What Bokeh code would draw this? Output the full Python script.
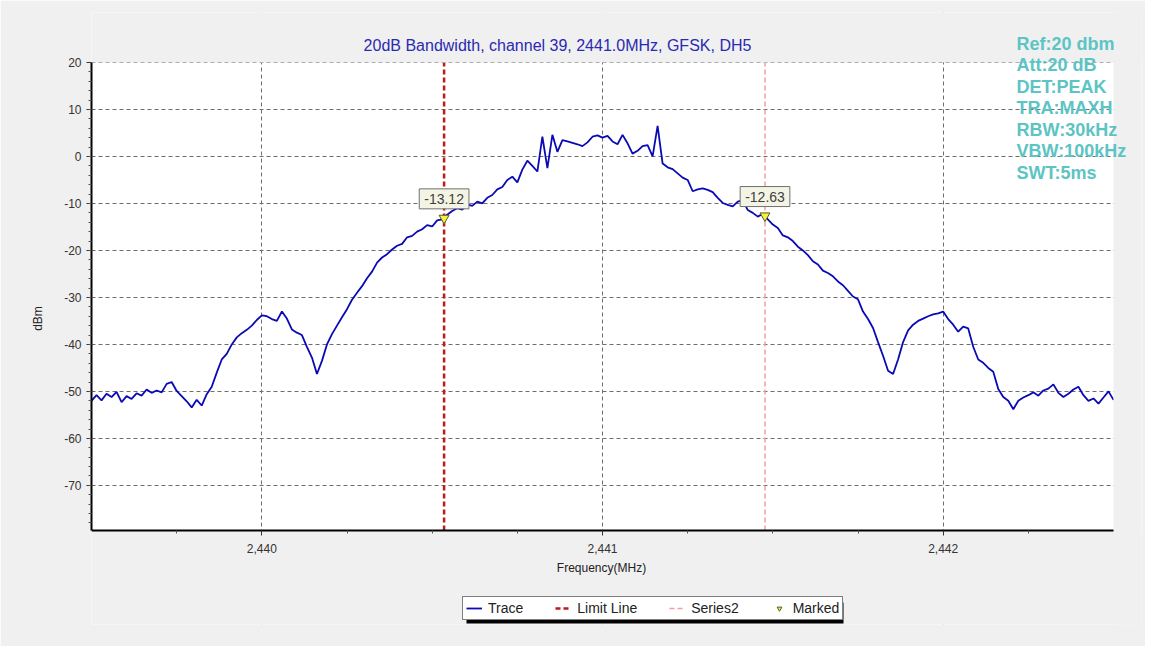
from bokeh.plotting import figure
from bokeh.models import Range1d, FixedTicker, Label, Legend, LegendItem, BoxAnnotation
from bokeh.embed import file_html
from bokeh.resources import INLINE
import numpy as np

# ---------------- data ----------------
freq_start = 2439.5
freq_stop = 2442.5
trace_dbm = [
    -52.0, -50.8, -51.9, -50.5, -51.2, -50.1, -52.3, -51.0, -51.6, -50.4,
    -50.9, -49.6, -50.3, -49.8, -50.2, -48.4, -48.0, -49.9, -51.0, -52.1,
    -53.4, -51.8, -53.0, -50.6, -49.0, -46.0, -43.2, -42.0, -40.0, -38.5,
    -37.6, -36.9, -36.0, -34.8, -33.8, -34.0, -34.6, -35.0, -33.0, -34.5,
    -36.8, -37.5, -38.0, -40.5, -42.8, -46.3, -43.5, -40.0, -37.8, -36.0,
    -34.2, -32.5, -30.5, -29.0, -27.6, -25.9, -24.5, -22.6, -21.5, -20.8,
    -19.8, -19.0, -18.6, -17.2, -16.9, -16.0, -15.5, -14.6, -14.9, -13.6,
    -13.4, -12.4, -11.6, -11.0, -11.3, -10.2, -10.5, -9.6, -10.0, -8.8,
    -8.2, -7.0, -6.5, -5.0, -4.3, -5.5, -2.8, -0.9, -2.0, -3.2,
    4.2, -2.5, 4.6, 1.0, 3.5, 3.2, 2.9, 2.6, 2.2, 3.0,
    4.2, 4.5, 4.0, 4.4, 3.2, 2.6, 4.6, 2.8, 0.6, 1.2,
    2.2, 2.4, 0.0, 6.5, -1.5, -2.3, -2.7, -3.6, -4.5, -5.0,
    -7.4, -7.0, -6.8, -7.1, -7.6, -8.8, -9.9, -10.3, -10.6, -9.6,
    -9.3, -11.4, -12.0, -12.8, -12.2, -13.4, -14.5, -15.2, -16.8, -17.2,
    -18.0, -19.2, -20.0, -21.0, -22.3, -23.0, -24.3, -24.8, -25.5, -26.6,
    -27.4, -28.6, -29.8, -30.4, -33.0, -34.6, -36.5, -39.5, -42.4, -45.6,
    -46.3, -43.2, -39.5, -37.0, -35.8, -35.0, -34.5, -34.0, -33.6, -33.4,
    -33.0, -34.6, -35.8, -37.3, -36.2, -36.6, -40.5, -43.2, -43.9, -45.0,
    -45.8, -49.5, -51.2, -52.0, -53.8, -52.0, -51.3, -50.8, -50.2, -50.9,
    -49.8, -49.4, -48.5, -50.3, -51.2, -50.5, -49.6, -49.0, -50.8, -52.0,
    -51.5, -52.6, -51.3, -50.0, -51.8,
]
trace_freq = np.linspace(freq_start, freq_stop, len(trace_dbm))

limit_freq = [2440.535]
series2_freq = [2441.477]
marker_freq = [2440.535, 2441.477]
marker_dbm = [-13.12, -12.63]
marker_text = ["-13.12", "-12.63"]

x_ticks = [2440, 2441, 2442]
x_minor = [2439.75, 2440.25, 2440.5, 2440.75, 2441.25, 2441.5, 2441.75, 2442.25]
y_ticks = [-70, -60, -50, -40, -30, -20, -10, 0, 10, 20]
y_min, y_max = -79.6, 20

title_text = "20dB Bandwidth, channel 39, 2441.0MHz, GFSK, DH5"
x_label = "Frequency(MHz)"
info_lines = ["Ref:20 dbm", "Att:20 dB", "DET:PEAK", "TRA:MAXH",
              "RBW:30kHz", "VBW:100kHz", "SWT:5ms"]

# ---------------- layout helpers (pixel -> data) ----------------
W, H = 1145, 646
FL, FR, FT, FB = 91, 1113, 62, 530     # visible plot area
EXT_R, EXT_T, EXT_B = 1141, 12, 624     # extended frame edges


def X(px):
    return freq_start + (px - FL) * (freq_stop - freq_start) / (FR - FL)


def Y(py):
    return y_max - (py - FT) * (y_max - y_min) / (FB - FT)


FONT = "Liberation Sans"
GRAY = "#f0f0f0"

p = figure(width=W, height=H, output_backend="svg", toolbar_location=None,
           x_range=Range1d(freq_start, X(EXT_R)), y_range=Range1d(Y(EXT_B), Y(EXT_T)),
           min_border_left=FL, min_border_right=W - EXT_R,
           min_border_top=EXT_T, min_border_bottom=H - EXT_B,
           background_fill_color="white", border_fill_color=GRAY,
           outline_line_color=None)

# axes
for ax in (p.xaxis[0], p.yaxis[0]):
    ax.axis_line_color = "black"
    ax.axis_line_width = 2
    ax.major_tick_line_color = "#333333"
    ax.minor_tick_line_color = "#555555"
    ax.major_tick_out = 5
    ax.major_tick_in = 0
    ax.minor_tick_out = 3
    ax.minor_tick_in = 0
    ax.major_label_text_font = FONT
    ax.major_label_text_font_size = "12px"
    ax.major_label_text_color = "#333333"
    ax.axis_label_text_font = FONT
    ax.axis_label_text_font_size = "12px"
    ax.axis_label_text_font_style = "normal"
    ax.axis_label_text_color = "#222222"

# x axis drawn at the bottom of the visible plot area; its labels are drawn as Labels
p.xaxis.fixed_location = y_min
p.xaxis.bounds = (freq_start, freq_stop)
p.xaxis.ticker = FixedTicker(ticks=x_ticks, minor_ticks=x_minor)
p.xaxis.major_label_overrides = {t: "" for t in x_ticks}
p.xaxis.major_label_text_font_size = "0px"
p.xaxis.major_label_standoff = 0

p.yaxis.bounds = (y_min, y_max)
p.yaxis.ticker = FixedTicker(ticks=y_ticks, minor_ticks=list(range(-78, 20, 2)))
p.yaxis.major_label_overrides = {t: str(t) for t in y_ticks}
p.yaxis.axis_label = "dBm"
p.yaxis.axis_label_standoff = 16

p.xgrid.ticker = FixedTicker(ticks=x_ticks)
p.ygrid.ticker = FixedTicker(ticks=y_ticks)
for g in (p.xgrid[0], p.ygrid[0]):
    g.grid_line_color = "#6e6e6e"
    g.grid_line_dash = "4 3"
    g.grid_line_width = 1

# lines
r_lim = p.segment(x0=limit_freq, x1=limit_freq, y0=[y_min], y1=[y_max],
                  line_color="#b81c1c", line_width=2.5, line_dash="5 3")
r_s2 = p.segment(x0=series2_freq, x1=series2_freq, y0=[y_min], y1=[y_max],
                 line_color="#f0a0a0", line_width=1.5, line_dash="5 3")
r_tr = p.line(trace_freq, trace_dbm, line_color="#0a0ab4", line_width=1.8)
r_mk = p.scatter(marker_freq, marker_dbm, marker="inverted_triangle", size=10,
                 fill_color="#f4f040", line_color="#5a5a20", line_width=1)

# gray covers over the extended parts of the frame
lo_x, hi_x = freq_start - 1, X(EXT_R) + 1
lo_y, hi_y = Y(EXT_B) - 5, Y(EXT_T) + 5
for l, r, b, t in [(lo_x, hi_x, y_max, hi_y),
                   (freq_stop, hi_x, lo_y, hi_y),
                   (lo_x, hi_x, lo_y, y_min)]:
    p.add_layout(BoxAnnotation(left=l, right=r, bottom=b, top=t,
                               fill_color=GRAY, fill_alpha=1,
                               line_color=None, level="glyph"))

# x tick labels and axis title
for t in x_ticks:
    p.add_layout(Label(x=t, y=Y(548), text=f"{t:,}", text_align="center",
                       text_baseline="middle", text_font=FONT,
                       text_font_size="12px", text_color="#333333"))
p.add_layout(Label(x=X(601), y=Y(567), text=x_label, text_align="center",
                   text_baseline="middle", text_font=FONT,
                   text_font_size="12px", text_color="#222222"))

# marker value boxes
for f, d, t in zip(marker_freq, marker_dbm, marker_text):
    p.add_layout(Label(x=f, y=d + 4.1, text=t, text_align="center",
                       text_baseline="middle", text_font=FONT,
                       text_font_size="14px", text_color="#404040",
                       background_fill_color="#f4f4e4",
                       border_line_color="#707070", border_line_width=1,
                       padding=5))

# title
p.add_layout(Label(x=X(557), y=Y(45), text=title_text, text_align="center",
                   text_baseline="middle", text_font=FONT, text_font_size="16px",
                   text_color="#2a2ab0"))

# info text
for k, t in enumerate(info_lines):
    p.add_layout(Label(x=X(1016), y=Y(43 + 21.5 * k), text=t, text_align="left",
                       text_baseline="middle", text_font=FONT,
                       text_font_size="18px", text_font_style="bold",
                       text_color="#5cc4c4"))

# legend shadow + legend
p.add_layout(BoxAnnotation(left=X(466), right=X(843), top=Y(602), bottom=Y(623),
                           fill_color="black", fill_alpha=1, line_color=None))

legend = Legend(items=[
    LegendItem(label="Trace", renderers=[r_tr]),
    LegendItem(label="Limit Line", renderers=[r_lim]),
    LegendItem(label="Series2", renderers=[r_s2]),
    LegendItem(label="Marked", renderers=[r_mk]),
], orientation="horizontal", location=(462 - FL, EXT_B - 620),
    border_line_color="black", border_line_width=1, background_fill_color="white",
    background_fill_alpha=1, label_text_font=FONT, label_text_font_size="14px",
    label_text_color="#222222", glyph_width=16, glyph_height=12, label_standoff=6,
    spacing=32, padding=3, margin=0, label_height=13)
p.add_layout(legend, "center")

open("out.html", "w").write(file_html(p, INLINE))
